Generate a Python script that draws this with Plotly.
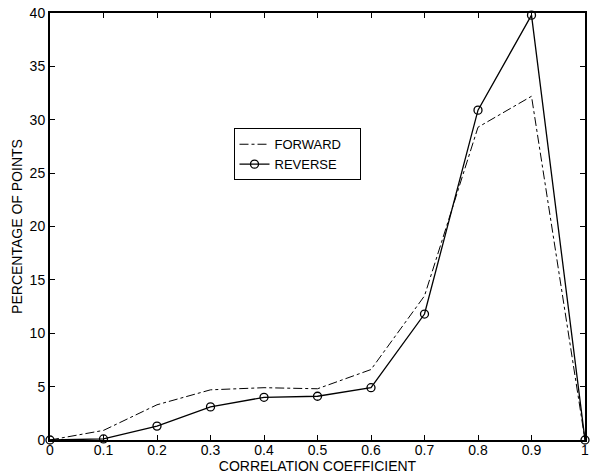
import plotly.graph_objects as go

x_vals = [0, 0.1, 0.2, 0.3, 0.4, 0.5, 0.6, 0.7, 0.8, 0.9, 1.0]
forward = [0, 0.9, 3.3, 4.7, 4.9, 4.8, 6.6, 13.5, 29.3, 32.2, 0]
reverse = [0, 0.1, 1.3, 3.1, 4.0, 4.1, 4.9, 11.8, 30.9, 39.8, 0]
x_ticks = [0, 0.1, 0.2, 0.3, 0.4, 0.5, 0.6, 0.7, 0.8, 0.9, 1]
x_tick_text = ["0", "0.1", "0.2", "0.3", "0.4", "0.5", "0.6", "0.7", "0.8", "0.9", "1"]
y_ticks = [0, 5, 10, 15, 20, 25, 30, 35, 40]

fig = go.Figure()
fig.add_trace(go.Scatter(x=x_vals, y=forward, mode="lines", name="FORWARD\u2003",
                         line=dict(color="black", width=1, dash="dashdot"), cliponaxis=False))
fig.add_trace(go.Scatter(x=x_vals, y=reverse, mode="lines+markers", name="REVERSE",
                         line=dict(color="black", width=1.3),
                         marker=dict(symbol="circle-open", size=8, color="black", line=dict(width=1.3)),
                         cliponaxis=False))

axis_common = dict(showgrid=False, zeroline=False, showline=True, linecolor="black", linewidth=2,
                   mirror="ticks", ticks="inside", ticklen=5, tickcolor="black", tickwidth=1,
                   tickfont=dict(family="Liberation Sans, Arial", size=14, color="black"))

fig.update_layout(
    width=593, height=476,
    margin=dict(l=50, r=4, t=13, b=36),
    paper_bgcolor="white", plot_bgcolor="white",
    font=dict(family="Liberation Sans, Arial", size=14, color="black"),
    xaxis=dict(range=[0, 1], tickvals=x_ticks, ticktext=x_tick_text, ticklabelstandoff=-4,
               title=dict(text="CORRELATION COEFFICIENT", font=dict(size=14), standoff=0),
               **axis_common),
    yaxis=dict(range=[0, 40], tickvals=y_ticks,
               title=dict(text="PERCENTAGE OF POINTS", font=dict(size=14), standoff=4),
               **axis_common),
    legend=dict(x=0.343, y=0.73, xanchor="left", yanchor="top", bgcolor="white",
                bordercolor="black", borderwidth=1, font=dict(size=13),
                tracegroupgap=0, itemwidth=30),
    showlegend=True,
)

fig.write_html("out.html", config={"displayModeBar": False},
               post_script="document.body.style.margin='0';")
